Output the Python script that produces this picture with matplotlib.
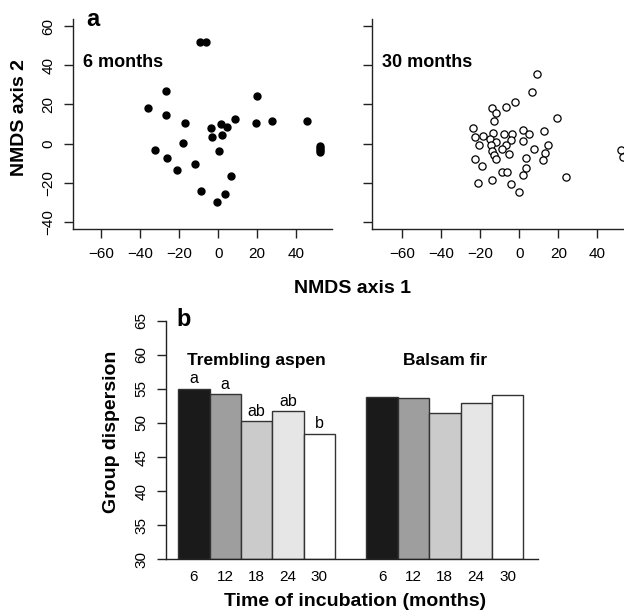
import matplotlib
matplotlib.use('Agg')
import matplotlib.pyplot as plt
import numpy as np

plt.rcParams['font.family'] = ['Liberation Sans', 'DejaVu Sans']

# NMDS scores after 6 months (filled symbols)
nmds6_x = [-9.4, -6.3, -26.7, -35.9, -26.7, -17.1, -3.9, 1.2, 4.3, 8.5,
           -3.4, 1.9, -32.3, -18.3, 0.2, -26.5, -11.8, -21.0, 6.5, -8.7,
           3.4, -0.7, 19.8, 19.5, 27.4, 45.3, 52.0, 52.0, 52.0, 52.2]
nmds6_y = [52.0, 52.0, 26.9, 18.4, 14.6, 10.5, 7.8, 9.9, 8.5, 12.6,
           3.6, 4.6, -3.4, 0.5, -3.7, -7.5, -10.5, -13.6, -16.5, -24.0,
           -25.7, -29.8, 24.3, 10.4, 11.4, 11.4, -1.2, -2.2, -3.2, -4.2]

# NMDS scores after 30 months (open symbols)
nmds30_x = [9.2, 6.7, -2.1, -7.0, -14.2, -11.8, -13.0, 19.1, -23.6, -22.9,
            -18.5, -13.7, -7.9, -3.6, 2.1, 5.1, 12.6, -15.0, -11.8, -4.1,
            1.7, -20.7, -14.7, -6.8, 14.5, -9.1, -14.0, -5.1, 7.4, 13.3,
            -13.0, -11.9, -22.9, 3.2, 12.0, -19.1, 3.4, -8.7, -6.5, 2.1,
            23.9, -21.2, -13.8, -4.3, -0.3, 52.0, 53.0]
nmds30_y = [35.4, 26.2, 21.1, 18.7, 18.0, 15.5, 11.7, 13.1, 8.0, 3.4,
            4.1, 5.4, 4.8, 4.9, 6.8, 4.9, 6.5, 2.4, 1.0, 1.9,
            1.4, -0.9, -0.9, -0.9, -0.5, -2.9, -3.7, -5.1, -2.7, -4.6,
            -5.8, -8.0, -7.7, -7.1, -8.5, -11.6, -12.4, -14.6, -14.6, -16.2,
            -16.8, -20.2, -18.5, -20.4, -24.5, -3.2, -6.6]

nmds_xticks = [-60, -40, -20, 0, 20, 40]
nmds_yticks = [-40, -20, 0, 20, 40, 60]

# group dispersion per incubation time
months = ['6', '12', '18', '24', '30']
aspen_disp = [55.0, 54.2, 50.3, 51.7, 48.4]
fir_disp = [53.8, 53.6, 51.5, 53.0, 54.1]
aspen_letters = ['a', 'a', 'ab', 'ab', 'b']
bar_colors = ['#1a1a1a', '#9e9e9e', '#cbcbcb', '#e6e6e6', '#ffffff']
disp_ticks = [30, 35, 40, 45, 50, 55, 60, 65]

W, H = 624.0, 613.0
fig = plt.figure(figsize=(W / 100, H / 100), dpi=100)


def style_axes(ax):
    for s in ['top', 'right']:
        ax.spines[s].set_visible(False)
    for s in ['left', 'bottom']:
        ax.spines[s].set_color('#222222')
        ax.spines[s].set_linewidth(1.0)
    ax.tick_params(direction='out', length=6.5, width=1.0, color='#222222',
                   labelsize=11, pad=6)


# --- panel a ---
ax1 = fig.add_axes([73 / W, 1 - 229.3 / H, 258.7 / W, 210.3 / H])
ax2 = fig.add_axes([371.7 / W, 1 - 229.3 / H, 258.7 / W, 210.3 / H])

ax1.plot(nmds6_x, nmds6_y, 'o', color='black', ms=5, clip_on=False)
ax2.plot(nmds30_x, nmds30_y, 'o', mfc='white', mec='black', mew=0.9, ms=5.2,
         clip_on=False)

ax1.set_xlim(-74.5, 58.2)
ax2.set_xlim(-75.7, 57.0)
for ax in (ax1, ax2):
    style_axes(ax)
    ax.set_ylim(-43.7, 63.6)
    ax.set_xticks(nmds_xticks)
    ax.set_yticks(nmds_yticks)
    ax.set_xticklabels([str(t).replace('-', '\u2212') for t in nmds_xticks])
ax1.set_yticklabels([str(t).replace('-', '\u2212') for t in nmds_yticks],
                    rotation=90, va='center')
ax2.set_yticklabels([])

fig.text(86 / W, 1 - 26 / H, 'a', fontsize=17, fontweight='bold', va='baseline')
fig.text(83 / W, 1 - 66.7 / H, '6 months', fontsize=13, fontweight='bold',
         va='baseline')
fig.text(381.7 / W, 1 - 66.7 / H, '30 months', fontsize=13, fontweight='bold',
         va='baseline')
fig.text(20 / W, 1 - 118 / H, 'NMDS axis 2', fontsize=14, fontweight='bold',
         rotation=90, ha='center', va='center')
fig.text(353 / W, 1 - 288 / H, 'NMDS axis 1', fontsize=14, fontweight='bold',
         ha='center', va='center')

# --- panel b ---
ax3 = fig.add_axes([165.7 / W, 1 - 559.3 / H, 372 / W, 238.6 / H])
style_axes(ax3)
pos_aspen = np.arange(5)
pos_fir = np.arange(5) + 6
ax3.bar(pos_aspen, np.array(aspen_disp) - 30, bottom=30, width=1.0,
        color=bar_colors, edgecolor='#333333', linewidth=1.0)
ax3.bar(pos_fir, np.array(fir_disp) - 30, bottom=30, width=1.0,
        color=bar_colors, edgecolor='#333333', linewidth=1.0)
for p, v, lab in zip(pos_aspen, aspen_disp, aspen_letters):
    ax3.text(p, v + 0.35, lab, ha='center', va='bottom', fontsize=11.5)
ax3.set_xlim(-0.9, 10.96)
ax3.set_ylim(30, 65)
ax3.set_yticks(disp_ticks)
ax3.set_yticklabels([str(t) for t in disp_ticks], rotation=90, va='center')
ax3.set_xticks(list(pos_aspen) + list(pos_fir))
ax3.set_xticklabels(months + months)
ax3.tick_params(axis='x', length=0, pad=8)

fig.text(176.7 / W, 1 - 326 / H, 'b', fontsize=17, fontweight='bold',
         va='baseline')
fig.text(256.7 / W, 1 - 365 / H, 'Trembling aspen', fontsize=12.5,
         fontweight='bold', ha='center', va='baseline')
fig.text(445 / W, 1 - 365 / H, 'Balsam fir', fontsize=12.5,
         fontweight='bold', ha='center', va='baseline')
fig.text(111.7 / W, 1 - 431.7 / H, 'Group dispersion', fontsize=14,
         fontweight='bold', rotation=90, ha='center', va='center')
fig.text(355 / W, 1 - 601.7 / H, 'Time of incubation (months)', fontsize=14,
         fontweight='bold', ha='center', va='center')

fig.savefig('out.png', dpi=100)
